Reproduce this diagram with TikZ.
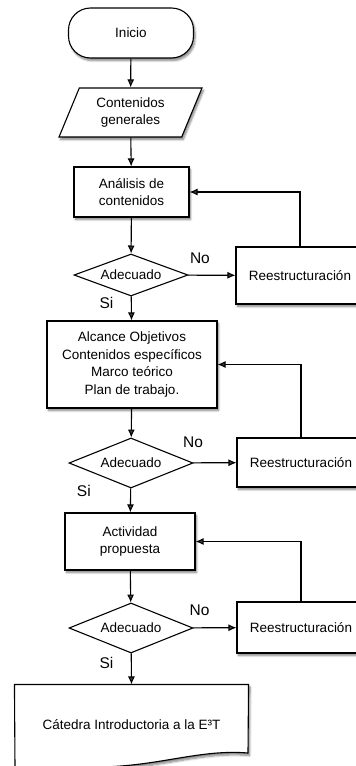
\documentclass[tikz,border=0pt]{standalone}
\usepackage{fontspec}
\setmainfont{Liberation Sans}
\usepackage{tikz}
\usetikzlibrary{arrows.meta,shapes,positioning,shadows.blur}

\begin{document}
\begin{tikzpicture}[x=1pt, y=-1pt, >={Latex[length=8pt,width=7pt]}, line width=1.1pt,
    font=\fontsize{13.5}{17.5}\selectfont,
    sh/.style={blur shadow={shadow xshift=1.5pt, shadow yshift=-2.5pt, shadow blur steps=6, shadow opacity=50}},
    term/.style={rectangle, draw, fill=white, rounded corners=22pt, minimum width=125pt, minimum height=50pt, sh},
    io/.style={trapezium, trapezium left angle=68, trapezium right angle=112, trapezium stretches=true, draw, fill=white, minimum width=143pt, minimum height=49pt, align=center, sh},
    box/.style={rectangle, draw, fill=white, align=center, sh},
    dec/.style={diamond, draw, fill=white, inner sep=0pt, aspect=2.5, minimum width=124pt, minimum height=50pt},
    re/.style={rectangle, draw, fill=white, minimum width=128pt, sh},
    lbl/.style={font=\fontsize{15.5}{17}\selectfont},
    line/.style={draw, ->}]

    \useasboundingbox (0,0) rectangle (356,766);
    \clip (0,0) rectangle (356,766);

    \node [term] (inicio) at (131,33) {Inicio};
    \node [io] (gen) at (130.5,112.5) {Contenidos\\generales};
    \node [box, minimum width=115pt, minimum height=50pt] (ana) at (131.5,192) {Análisis de\\contenidos};
    \node [dec, aspect=2.7, minimum width=114pt, minimum height=42pt] (d1) at (131,275) {Adecuado};
    \node [re, minimum height=57pt] (re1) at (300,275.5) {Reestructuración};

    \node [box, minimum width=170pt, minimum height=87pt] (alc) at (132,364.5) {Alcance Objetivos\\Contenidos específicos\\Marco teórico\\Plan de trabajo.};
    \node [dec] (d2) at (131,463) {Adecuado};
    \node [re, minimum height=49pt] (re2) at (301,462.5) {Reestructuración};

    \node [box, minimum width=130pt, minimum height=57pt] (act) at (130,541.5) {Actividad\\propuesta};
    \node [dec] (d3) at (131,628) {Adecuado};
    \node [re, minimum height=51pt] (re3) at (301,627.5) {Reestructuración};

    \node [minimum width=233pt, minimum height=70pt] (cat) at (131.5,720) {};
    \draw [fill=white, sh] (cat.north west) -- (cat.north east) -- (248,753)
        .. controls (200,749) and (160,766) .. (100,767) -- (15,767) -- cycle;
    \node at (cat.center) [yshift=-5pt] (cattxt) {Cátedra Introductoria a la E³T};

    \path [line] (inicio) -- (gen);
    \path [line] (gen) -- (ana);
    \path [line] (ana) -- (d1);
    \path [line] (d1) -- node [lbl, pos=0.25, above=8pt] {No} (re1);
    \path [line] (d1) -- node [lbl, pos=0.25, left=14pt] {Si} (alc);
    \path [line] (re1.north) |- (ana.east);

    \path [line] (alc) -- (d2);
    \path [line] (d2) -- node [lbl, pos=0, above=11pt] {No} (re2);
    \path [line] (d2) -- node [lbl, pos=0.1, left=36pt] {Si} (act);
    \path [line] (re2.north) |- (alc.east);

    \path [line] (act) -- (d3);
    \path [line] (d3) -- node [lbl, pos=0.15, above=8pt] {No} (re3);
    \path [line] (d3) -- node [lbl, pos=0.3, left=14pt] {Si} (cat.north);
    \path [line] (re3.north) |- (act.east);
\end{tikzpicture}
\end{document}
